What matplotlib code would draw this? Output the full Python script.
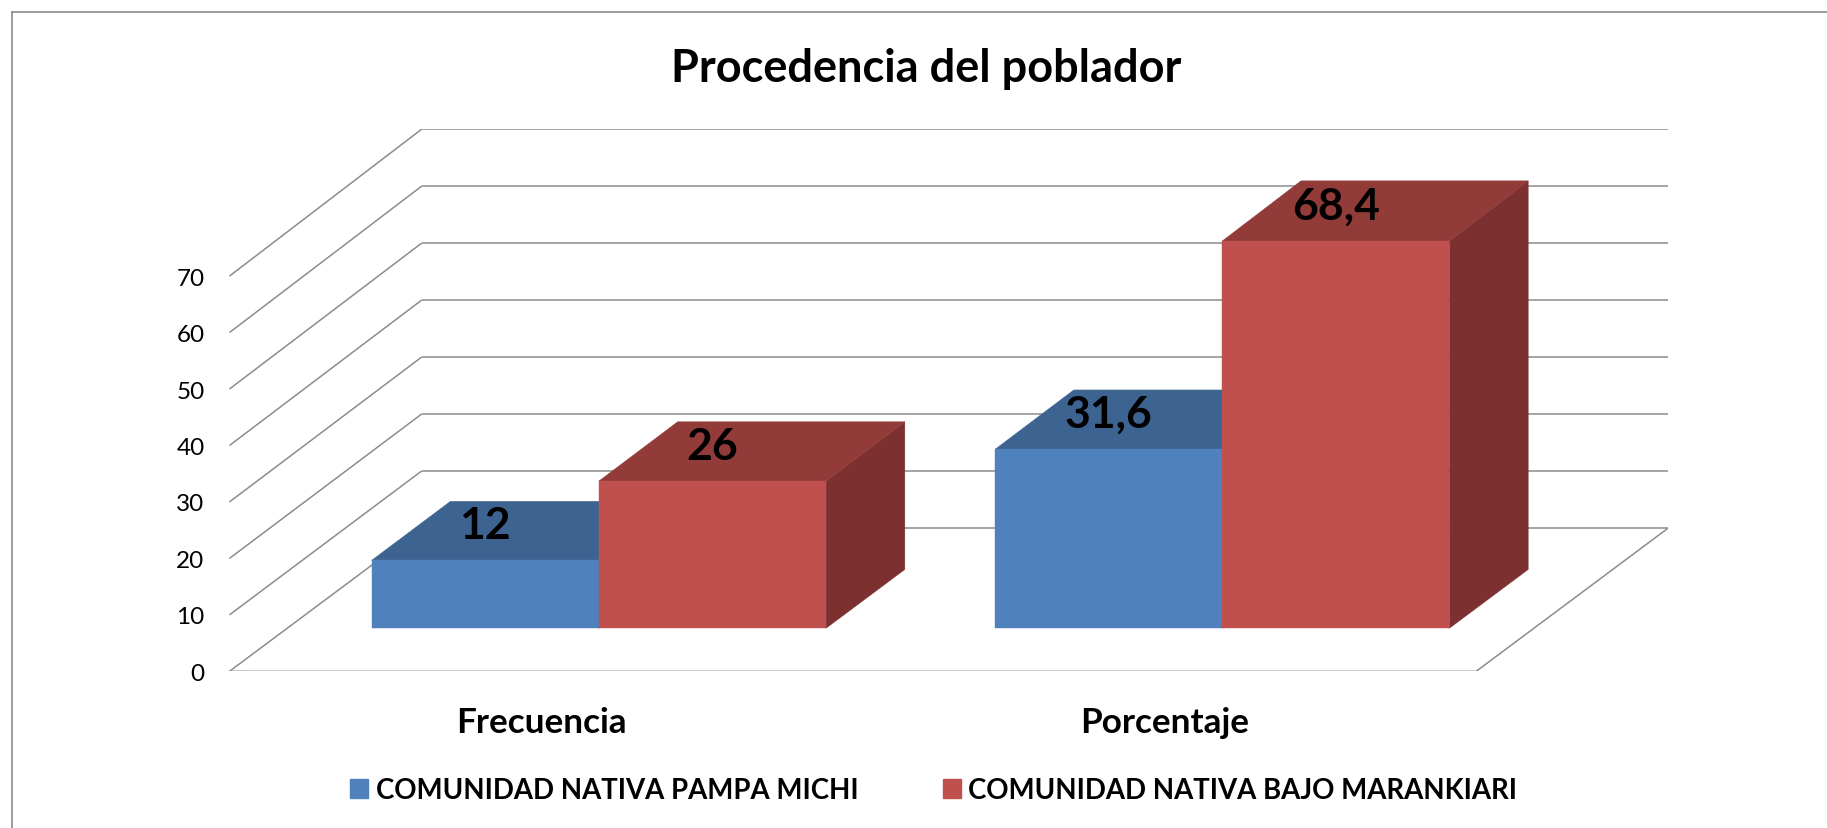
import matplotlib
matplotlib.use("Agg")
from matplotlib import pyplot as plt
from matplotlib.patches import Polygon, Patch
from matplotlib.lines import Line2D

categories = ["Frecuencia", "Porcentaje"]
series = ["COMUNIDAD NATIVA PAMPA MICHI", "COMUNIDAD NATIVA BAJO MARANKIARI"]
pampa_michi = [12, 31.6]
bajo_marankiari = [26, 68.4]
yticks = [0, 10, 20, 30, 40, 50, 60, 70]

front_colors = ["#4F81BD", "#C0504D"]
top_colors = ["#3D6390", "#923B39"]
side_colors = ["#345A86", "#7C3030"]
grid_color = "#8C8C8C"

plt.rcParams["font.family"] = ["Lato", "DejaVu Sans"]

# oblique "3D" look: depth adds DX (category units) and DY (value units),
# plus a touch of perspective (back wall slightly taller)
DX, DY, K = 0.3084, 25.40, 0.0089
bar_w = 0.3645
gap = (1 - 2 * bar_w) / 2
f0, f1 = 0.30, 0.71  # depth slice occupied by the bars


def proj(x, v, d):
    return x + d * DX, v * (1 + K * d) + d * DY


fig = plt.figure(figsize=(18.27, 8.29), dpi=100)
ax = fig.add_axes([0.1256, 0.189, 0.7876, 0.654])
ax.set_xlim(0, 2 + DX)
ax.set_ylim(0, proj(0, yticks[-1], 1)[1])

# walls: side diagonals + back gridlines
for v in yticks:
    ax.plot(*zip(proj(0, v, 0), proj(0, v, 1)), color=grid_color, lw=1.1, zorder=1,
            solid_capstyle="butt")
    ax.plot(*zip(proj(0, v, 1), proj(2, v, 1)), color=grid_color, lw=1.1, zorder=1,
            solid_capstyle="butt")
# floor
ax.plot(*zip(proj(0, 0, 0), proj(2, 0, 0), proj(2, 0, 1)), color=grid_color, lw=1.1,
        zorder=1)

data = [pampa_michi, bajo_marankiari]
for i in range(len(categories)):
    for j, vals in enumerate(data):
        v = vals[i]
        x0 = i + gap + j * bar_w
        x1 = x0 + bar_w
        front = [proj(x0, 0, f0), proj(x1, 0, f0), proj(x1, v, f0), proj(x0, v, f0)]
        top = [proj(x0, v, f0), proj(x1, v, f0), proj(x1, v, f1), proj(x0, v, f1)]
        side = [proj(x1, 0, f0), proj(x1, 0, f1), proj(x1, v, f1), proj(x1, v, f0)]
        for pts, c in ((side, side_colors[j]), (top, top_colors[j]), (front, front_colors[j])):
            ax.add_patch(Polygon(pts, closed=True, facecolor=c, edgecolor=c, lw=0.3,
                                 zorder=2))
        lx, ly = proj((x0 + x1) / 2, v, f0)
        ax.text(lx, ly + 6.3, f"{v:g}".replace(".", ","), ha="center", va="center",
                fontsize=32, fontweight="bold", color="black", zorder=3)

ax.set_yticks([proj(0, t, 0)[1] for t in yticks])
ax.set_yticklabels([str(t) for t in yticks], fontsize=17.5)
ax.set_xticks([0.5, 1.5])
ax.set_xticklabels(categories, fontsize=25.3, fontweight="bold")
ax.tick_params(axis="y", length=0, pad=18)
ax.tick_params(axis="x", length=0, pad=25)
for s in ax.spines.values():
    s.set_visible(False)
ax.set_facecolor("none")

fig.text(0.5072, 0.901, "Procedencia del poblador", ha="center", va="baseline",
         fontsize=32.5, fontweight="bold")

handles = [Patch(facecolor=c, edgecolor=c) for c in front_colors]
fig.legend(handles, series, loc="center", bbox_to_anchor=(0.511, 0.0458), ncol=2,
           frameon=False, prop={"size": 19.9, "weight": "bold"}, handlelength=0.65,
           handleheight=0.65, handletextpad=0.28, columnspacing=3.05, borderpad=0)

# chart border (clipped at right and bottom in the original)
bl, bt = 12 / 1827, 1 - 12.5 / 829
fig.add_artist(Line2D([bl, bl], [0, bt], color="#8A8A8A", lw=1.2))
fig.add_artist(Line2D([bl, 1], [bt, bt], color="#8A8A8A", lw=1.2))

fig.savefig("out.png", dpi=100)
